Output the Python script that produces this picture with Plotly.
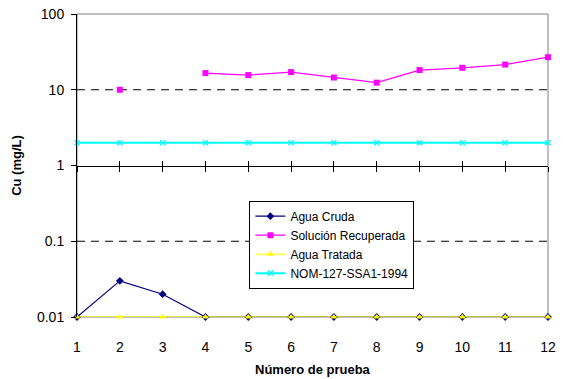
import plotly.graph_objects as go

x_vals = [1, 2, 3, 4, 5, 6, 7, 8, 9, 10, 11, 12]
agua_cruda = [0.01, 0.03, 0.02, 0.01, 0.01, 0.01, 0.01, 0.01, 0.01, 0.01, 0.01, 0.01]
solucion_recuperada = [None, 10, None, 16.6, 15.6, 17.1, 14.5, 12.4, 18.2, 19.5, 21.5, 26.9]
agua_tratada = [0.01] * 12
nom = [2] * 12
y_ticks = [0.01, 0.1, 1, 10, 100]
y_ticktext = ["0.01", "0.1", "1", "10", "100"]
dashed_levels = [0.1, 10]

FONT = "Liberation Sans, Arial, sans-serif"

fig = go.Figure()
fig.add_trace(go.Scatter(x=x_vals, y=agua_cruda, name="Agua Cruda", mode="lines+markers",
                         line=dict(color="#000080", width=1.2),
                         marker=dict(symbol="diamond", size=6, color="#000080"), cliponaxis=False))
fig.add_trace(go.Scatter(x=x_vals, y=solucion_recuperada, name="Solución Recuperada", mode="lines+markers",
                         line=dict(color="#FF00FF", width=1.3),
                         marker=dict(symbol="square", size=6, color="#FF00FF"), cliponaxis=False))
fig.add_trace(go.Scatter(x=x_vals, y=agua_tratada, name="Agua Tratada", mode="lines+markers",
                         line=dict(color="rgba(255,255,0,0.63)", width=2),
                         marker=dict(symbol="triangle-up", size=6, color="#FFFF00"), cliponaxis=False))
fig.add_trace(go.Scatter(x=x_vals, y=nom, name="NOM-127-SSA1-1994", mode="lines+markers",
                         line=dict(color="#00FFFF", width=2),
                         marker=dict(symbol="x-thin", size=5, color="#00FFFF",
                                     line=dict(color="#00FFFF", width=1.5)), cliponaxis=False))
# dummy traces for the crossing category axis
fig.add_trace(go.Scatter(x=x_vals, y=[None] * 12, xaxis="x2", showlegend=False, hoverinfo="skip"))
fig.add_trace(go.Scatter(x=x_vals, y=[None] * 12, xaxis="x3", showlegend=False, hoverinfo="skip"))

shapes = [dict(type="rect", xref="paper", yref="paper", x0=0, x1=1, y0=0, y1=1,
               line=dict(color="#808080", width=1), layer="below")]
for lv in dashed_levels:
    shapes.append(dict(type="line", xref="paper", yref="y", x0=0, x1=1, y0=lv, y1=lv,
                       line=dict(color="#000000", width=1, dash="8px,6px"), layer="below"))

fig.update_layout(
    width=563, height=379,
    margin=dict(l=77, r=15, t=14, b=62),
    paper_bgcolor="white", plot_bgcolor="white",
    font=dict(family=FONT, color="black", size=14),
    shapes=shapes,
    annotations=[dict(text="<b>Número de prueba</b>", xref="paper", yref="paper", x=0.5, y=0,
                      xanchor="center", yanchor="middle", yshift=-52, showarrow=False,
                      font=dict(size=13))],
    xaxis=dict(range=[1, 12], tickmode="array", tickvals=x_vals, showgrid=False, zeroline=False,
               showline=False, ticks="", ticklabelstandoff=20, tickfont=dict(size=14),
               automargin=False, ticklabeloverflow="allow"),
    xaxis2=dict(range=[1, 12], overlaying="x", anchor="free", position=0.5, tickmode="array",
                tickvals=x_vals, showticklabels=False, showgrid=False, zeroline=False,
                showline=True, linecolor="black", linewidth=1, ticks="outside", ticklen=5,
                tickcolor="black", side="bottom", automargin=False),
    xaxis3=dict(range=[1, 12], overlaying="x", anchor="free", position=0.5, tickmode="array",
                tickvals=x_vals, showticklabels=False, showgrid=False, zeroline=False,
                showline=False, ticks="inside", ticklen=5, tickcolor="black", side="bottom",
                automargin=False),
    yaxis=dict(type="log", range=[-2, 2], tickmode="array", tickvals=y_ticks, ticktext=y_ticktext,
               showgrid=False, zeroline=False, showline=True, linecolor="black", linewidth=1,
               ticks="outside", ticklen=5, tickcolor="black", ticklabelstandoff=4,
               automargin=False, ticklabeloverflow="allow",
               title=dict(text="<b>Cu (mg/L)</b>", font=dict(size=13), standoff=12)),
    legend=dict(x=0.366, y=0.384, xanchor="left", yanchor="top", bgcolor="white",
                bordercolor="black", borderwidth=1, font=dict(size=12), tracegroupgap=0,
                itemwidth=30),
    showlegend=True,
)

# remove the browser's default 8px body margin so the figure sits at the page origin
fig.write_html("out.html", config={"displayModeBar": False},
               post_script="document.body.style.margin='0';")
